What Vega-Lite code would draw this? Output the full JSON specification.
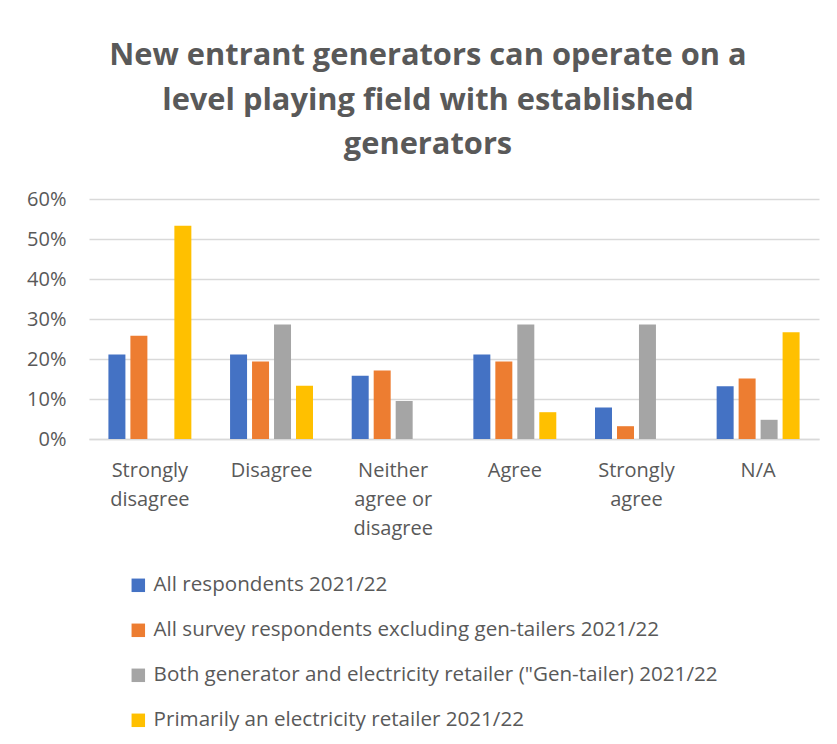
{
  "$schema": "https://vega.github.io/schema/vega-lite/v6.json",
  "width": 730,
  "height": 240,
  "autosize": {"type": "none"},
  "padding": {"left": 89, "top": 199, "right": 18, "bottom": 305},
  "background": "white",
  "title": {
    "text": ["New entrant generators can operate on a", "level playing field with established", "generators"],
    "font": "Open Sans",
    "fontSize": 30.8,
    "fontWeight": "bold",
    "color": "#595959",
    "lineHeight": 44.6,
    "anchor": "middle",
    "frame": "group",
    "dx": -26,
    "offset": 28
  },
  "data": {
    "values": [
      {"response": "Strongly disagree", "group": "All respondents 2021/22", "share": 0.211},
      {"response": "Strongly disagree", "group": "All survey respondents excluding gen-tailers 2021/22", "share": 0.258},
      {"response": "Strongly disagree", "group": "Both generator and electricity retailer (\"Gen-tailer) 2021/22", "share": 0},
      {"response": "Strongly disagree", "group": "Primarily an electricity retailer 2021/22", "share": 0.533},
      {"response": "Disagree", "group": "All respondents 2021/22", "share": 0.211},
      {"response": "Disagree", "group": "All survey respondents excluding gen-tailers 2021/22", "share": 0.194},
      {"response": "Disagree", "group": "Both generator and electricity retailer (\"Gen-tailer) 2021/22", "share": 0.286},
      {"response": "Disagree", "group": "Primarily an electricity retailer 2021/22", "share": 0.133},
      {"response": "Neither agree or disagree", "group": "All respondents 2021/22", "share": 0.158},
      {"response": "Neither agree or disagree", "group": "All survey respondents excluding gen-tailers 2021/22", "share": 0.171},
      {"response": "Neither agree or disagree", "group": "Both generator and electricity retailer (\"Gen-tailer) 2021/22", "share": 0.095},
      {"response": "Neither agree or disagree", "group": "Primarily an electricity retailer 2021/22", "share": 0},
      {"response": "Agree", "group": "All respondents 2021/22", "share": 0.211},
      {"response": "Agree", "group": "All survey respondents excluding gen-tailers 2021/22", "share": 0.194},
      {"response": "Agree", "group": "Both generator and electricity retailer (\"Gen-tailer) 2021/22", "share": 0.286},
      {"response": "Agree", "group": "Primarily an electricity retailer 2021/22", "share": 0.067},
      {"response": "Strongly agree", "group": "All respondents 2021/22", "share": 0.079},
      {"response": "Strongly agree", "group": "All survey respondents excluding gen-tailers 2021/22", "share": 0.032},
      {"response": "Strongly agree", "group": "Both generator and electricity retailer (\"Gen-tailer) 2021/22", "share": 0.286},
      {"response": "Strongly agree", "group": "Primarily an electricity retailer 2021/22", "share": 0},
      {"response": "N/A", "group": "All respondents 2021/22", "share": 0.132},
      {"response": "N/A", "group": "All survey respondents excluding gen-tailers 2021/22", "share": 0.151},
      {"response": "N/A", "group": "Both generator and electricity retailer (\"Gen-tailer) 2021/22", "share": 0.048},
      {"response": "N/A", "group": "Primarily an electricity retailer 2021/22", "share": 0.267}
    ]
  },
  "mark": {"type": "bar"},
  "encoding": {
    "x": {
      "field": "response",
      "type": "nominal",
      "sort": ["Strongly disagree", "Disagree", "Neither agree or disagree", "Agree", "Strongly agree", "N/A"],
      "scale": {"paddingInner": 0.277, "paddingOuter": 0.139},
      "axis": {
        "title": null,
        "labelAngle": 0,
        "ticks": false,
        "domainColor": "#d9d9d9",
        "domainWidth": 1.5,
        "labelFont": "Open Sans",
        "labelFontSize": 20,
        "labelColor": "#595959",
        "labelPadding": 21,
        "labelLineHeight": 29,
        "labelBaseline": "top",
        "labelExpr": "datum.value == 'Strongly disagree' ? ['Strongly', 'disagree'] : datum.value == 'Neither agree or disagree' ? ['Neither', 'agree or', 'disagree'] : datum.value == 'Strongly agree' ? ['Strongly', 'agree'] : datum.value"
      }
    },
    "xOffset": {
      "field": "group",
      "type": "nominal",
      "sort": [
        "All respondents 2021/22",
        "All survey respondents excluding gen-tailers 2021/22",
        "Both generator and electricity retailer (\"Gen-tailer) 2021/22",
        "Primarily an electricity retailer 2021/22"
      ],
      "scale": {"paddingInner": 0.227, "paddingOuter": 0.114}
    },
    "y": {
      "field": "share",
      "type": "quantitative",
      "scale": {"domain": [0, 0.6]},
      "axis": {
        "title": null,
        "format": ".0%",
        "values": [0, 0.1, 0.2, 0.3, 0.4, 0.5, 0.6],
        "ticks": false,
        "domain": false,
        "gridColor": "#d9d9d9",
        "gridWidth": 1.3,
        "labelFont": "Open Sans",
        "labelFontSize": 20,
        "labelColor": "#595959",
        "labelPadding": 23
      }
    },
    "color": {
      "field": "group",
      "type": "nominal",
      "sort": [
        "All respondents 2021/22",
        "All survey respondents excluding gen-tailers 2021/22",
        "Both generator and electricity retailer (\"Gen-tailer) 2021/22",
        "Primarily an electricity retailer 2021/22"
      ],
      "scale": {"range": ["#4472C4", "#ED7D31", "#A5A5A5", "#FFC000"]},
      "legend": {
        "title": null,
        "orient": "none",
        "legendX": 39,
        "legendY": 376,
        "direction": "vertical",
        "symbolType": "square",
        "symbolSize": 182,
        "symbolStrokeWidth": 0,
        "labelFont": "Open Sans",
        "labelFontSize": 20.6,
        "labelColor": "#595959",
        "labelOffset": 5,
        "labelLimit": 700,
        "rowPadding": 24,
        "padding": 0
      }
    }
  },
  "config": {
    "view": {"stroke": null}
  }
}
